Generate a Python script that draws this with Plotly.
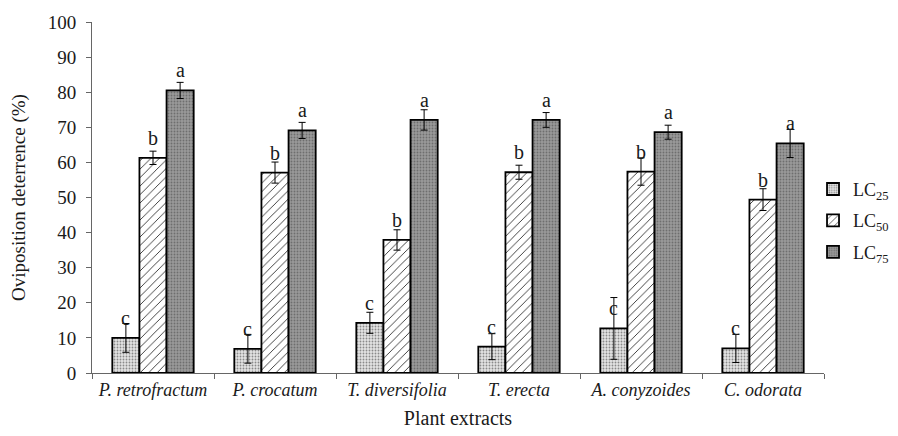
import plotly.graph_objects as go

categories = ["P. retrofractum", "P. crocatum", "T. diversifolia", "T. erecta", "A. conyzoides", "C. odorata"]
lc25 = [10.0, 6.9, 14.3, 7.5, 12.7, 7.0]
lc25_err = [4.1, 4.1, 3.0, 3.7, 8.8, 4.0]
lc50 = [61.3, 57.1, 37.9, 57.2, 57.4, 49.4]
lc50_err = [1.9, 3.0, 2.9, 2.0, 3.9, 3.1]
lc75 = [80.5, 69.1, 72.1, 72.1, 68.6, 65.4]
lc75_err = [2.3, 2.3, 2.9, 2.1, 2.0, 4.0]
letters25 = ["c"] * 6
letters50 = ["b"] * 6
letters75 = ["a"] * 6
series_names = ["LC<sub>25</sub>", "LC<sub>50</sub>", "LC<sub>75</sub>"]

FONT = "Liberation Serif"
TXT = "#1a1a1a"

fig = go.Figure()

styles = [
    dict(fillmode="replace", shape=".", bgcolor="#e4e4e4", fgcolor="#8a8a8a", size=3, solidity=0.3),
    dict(fillmode="replace", shape="/", bgcolor="white", fgcolor="#222222", size=6, solidity=0.14),
    dict(fillmode="replace", shape=".", bgcolor="#9a9a9a", fgcolor="#6e6e6e", size=3, solidity=0.3),
]
vals = [lc25, lc50, lc75]
errs = [lc25_err, lc50_err, lc75_err]
letters = [letters25, letters50, letters75]

for i in range(3):
    fig.add_trace(go.Bar(
        x=categories, y=vals[i], name=series_names[i],
        marker=dict(color=styles[i]["bgcolor"], pattern=styles[i],
                    line=dict(color="black", width=1.8)),
        error_y=dict(type="data", array=errs[i], color="black", thickness=1, width=3.5),
        legendgroup=str(i),
    ))

# letters sit a fixed distance above each bar top (as data labels)
offsets = [-1, 0, 1]
for i in range(3):
    for j, cat in enumerate(categories):
        fig.add_annotation(
            x=j + offsets[i] * (0.667 / 3), y=vals[i][j],
            xref="x", yref="y", text=letters[i][j], showarrow=False,
            yanchor="bottom", yshift=7,
            font=dict(family=FONT, size=20, color=TXT),
        )

fig.update_layout(
    width=890, height=428,
    margin=dict(l=84, r=74, t=14, b=63, autoexpand=False),
    paper_bgcolor="white", plot_bgcolor="white",
    barmode="group", bargap=0.333, bargroupgap=0,
    showlegend=True,
    legend=dict(x=0.985, y=0.576, xanchor="left", yanchor="top",
                font=dict(family=FONT, size=18, color=TXT),
                tracegroupgap=5, itemwidth=30, bgcolor="rgba(0,0,0,0)"),
    font=dict(family=FONT, color=TXT),
)

fig.update_xaxes(
    type="category", automargin=False,
    tickmode="array", tickvals=categories,
    ticktext=["<i>" + c + "</i>" for c in categories],
    tickangle=0,
    tickson="boundaries", ticks="outside", ticklen=5, tickcolor="#666",
    showline=True, linecolor="#666", linewidth=1,
    tickfont=dict(family=FONT, size=18, color=TXT),
    title=dict(text="Plant extracts", font=dict(family=FONT, size=20, color=TXT), standoff=12),
    showgrid=False, range=[-0.5, 5.5],
)
fig.update_yaxes(
    range=[0, 100], dtick=10, tick0=0, automargin=False,
    ticks="outside", ticklen=5, tickcolor="#666",
    showline=True, linecolor="#666", linewidth=1,
    ticklabelstandoff=6,
    tickfont=dict(family=FONT, size=19, color=TXT),
    title=dict(text="Oviposition deterrence (%)", font=dict(family=FONT, size=19, color=TXT), standoff=18),
    showgrid=False, zeroline=False,
)

fig.write_html("out.html")
